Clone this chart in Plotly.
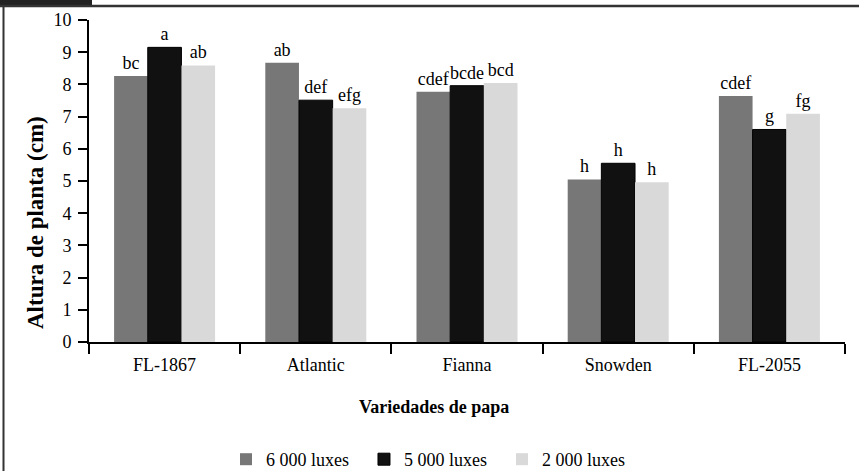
import plotly.graph_objects as go

varieties = ["FL-1867", "Atlantic", "Fianna", "Snowden", "FL-2055"]
series_names = ["6 000 luxes", "5 000 luxes", "2 000 luxes"]
lux6000 = [8.26, 8.67, 7.77, 5.05, 7.64]
lux5000 = [9.15, 7.51, 7.96, 5.55, 6.60]
lux2000 = [8.59, 7.26, 8.04, 4.96, 7.09]
letters6000 = ["bc", "ab", "cdef", "h", "cdef"]
letters5000 = ["a", "def", "bcde", "h", "g"]
letters2000 = ["ab", "efg", "bcd", "h", "fg"]

FONT = "'Liberation Serif', Tinos, 'Times New Roman', 'DejaVu Serif', serif"
colors = ["#777777", "#111111", "#d9d9d9"]
line_w = [0, 1, 0]

fig = go.Figure()
for name, vals, labs, c, lw in zip(series_names, [lux6000, lux5000, lux2000],
                                   [letters6000, letters5000, letters2000], colors, line_w):
    fig.add_trace(go.Bar(
        x=varieties, y=vals, name=name, text=labs,
        textposition="outside", constraintext="none", cliponaxis=False,
        textfont=dict(family=FONT, size=18, color="black"),
        marker=dict(color=c, line=dict(color="#000000", width=lw)),
    ))

fig.update_layout(
    width=859, height=471,
    margin=dict(l=89, r=14, t=20, b=129, autoexpand=False),
    paper_bgcolor="white", plot_bgcolor="white",
    barmode="group", bargap=0.332, bargroupgap=0,
    font=dict(family=FONT, size=18, color="black"),
    showlegend=True,
    legend=dict(orientation="h", x=0.455, xanchor="center", y=(342 - 478) / 322, yanchor="bottom",
                font=dict(family=FONT, size=18, color="black"), bgcolor="rgba(0,0,0,0)",
                entrywidth=93, entrywidthmode="pixels", itemclick=False),
    xaxis=dict(showline=True, linecolor="black", linewidth=2, ticks="outside",
               tickson="boundaries", ticklen=10, tickwidth=1.5, tickcolor="black",
               showgrid=False, zeroline=False, automargin=False, ticklabelstandoff=5,
               tickfont=dict(family=FONT, size=18, color="black")),
    yaxis=dict(range=[0, 10], dtick=1, showline=True, linecolor="black", linewidth=2,
               ticks="outside", ticklen=9, tickwidth=1.5, tickcolor="black",
               showgrid=False, zeroline=False, automargin=False, ticklabelstandoff=3,
               tickfont=dict(family=FONT, size=18, color="black")),
    annotations=[
        dict(text="<b>Variedades de papa</b>", xref="paper", yref="paper",
             x=0.456, y=(342 - 407) / 322, showarrow=False,
             font=dict(family=FONT, size=18, color="black"), xanchor="center", yanchor="middle"),
        dict(text="<b>Altura de planta (cm)</b>", xref="paper", yref="paper",
             x=(35 - 89) / 756, y=(342 - 223) / 322, textangle=-90, showarrow=False,
             font=dict(family=FONT, size=23, color="black"), xanchor="center", yanchor="middle"),
    ],
    shapes=[
        dict(type="rect", xref="paper", yref="paper",
             x0=-89 / 756, x1=(92 - 89) / 756, y0=(342 - 0) / 322, y1=(342 - 6) / 322,
             fillcolor="#222222", line=dict(width=0), layer="above"),
        dict(type="line", xref="paper", yref="paper",
             x0=-89 / 756, x1=(859 - 89) / 756, y0=(342 - 6) / 322, y1=(342 - 6) / 322,
             line=dict(color="#333333", width=2.5)),
        dict(type="line", xref="paper", yref="paper",
             x0=(3.5 - 89) / 756, x1=(3.5 - 89) / 756, y0=(342 - 6) / 322, y1=(342 - 471) / 322,
             line=dict(color="#333333", width=2)),
    ],
)

fig.write_html("out.html", config={"displayModeBar": False},
               post_script="document.body.style.margin='0';document.body.style.overflow='hidden';")
